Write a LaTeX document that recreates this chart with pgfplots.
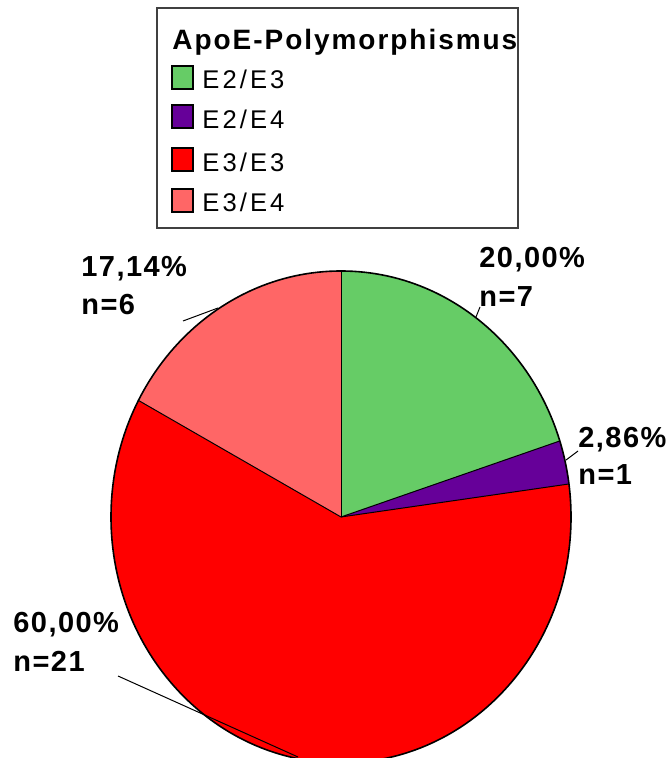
\documentclass[border=0pt]{standalone}
\usepackage{pgfplots}
\pgfplotsset{compat=1.18}
\usepackage{pgfplotstable}
\usepackage{fontspec}
\setmainfont{Liberation Sans}
\newfontfamily\lblfont[LetterSpace=5]{Liberation Sans}
\newfontfamily\legfont[LetterSpace=12]{Liberation Sans}
\newfontfamily\titfont[LetterSpace=7]{Liberation Sans}

\definecolor{cgreen}{RGB}{102,204,102}
\definecolor{cpurple}{RGB}{102,0,153}
\definecolor{cred}{RGB}{255,0,0}
\definecolor{csalmon}{RGB}{255,102,102}

% ApoE genotype counts
\pgfplotstableread{
label n
E2/E3 7
E2/E4 1
E3/E3 21
E3/E4 6
}\piedata

\pgfplotstablegetelem{0}{n}\of\piedata \let\nA\pgfplotsretval
\pgfplotstablegetelem{1}{n}\of\piedata \let\nB\pgfplotsretval
\pgfplotstablegetelem{2}{n}\of\piedata \let\nC\pgfplotsretval
\pgfplotstablegetelem{3}{n}\of\piedata \let\nD\pgfplotsretval
\pgfmathsetmacro\total{\nA+\nB+\nC+\nD}
% angles, clockwise from 12 o'clock
\pgfmathsetmacro\aA{90}
\pgfmathsetmacro\aB{90-360*\nA/\total}
\pgfmathsetmacro\aC{\aB-360*\nB/\total}
\pgfmathsetmacro\aD{\aC-360*\nC/\total}
\pgfmathsetmacro\aE{\aD-360*\nD/\total}

\tikzset{
  lbl/.style={anchor=base west, inner sep=0pt, font=\lblfont\bfseries\fontsize{14.5pt}{17pt}\selectfont},
  leg/.style={anchor=base west, inner sep=0pt, font=\legfont\fontsize{12.8pt}{15pt}\selectfont},
}

\begin{document}
\begin{tikzpicture}
\begin{axis}[
    width=335pt, height=379pt, scale only axis,
    xmin=0, xmax=670, ymin=0, ymax=758,
    hide axis, clip=true,
]
\def\cx{341}\def\cy{241}
\fill[cgreen] (axis cs:\cx,\cy) -- ++(\aA:115pt and 123pt) arc[start angle=\aA, end angle=\aB, x radius=115pt, y radius=123pt] -- cycle;
\fill[cpurple] (axis cs:\cx,\cy) -- ++(\aB:115pt and 123pt) arc[start angle=\aB, end angle=\aC, x radius=115pt, y radius=123pt] -- cycle;
\fill[cred] (axis cs:\cx,\cy) -- ++(\aC:115pt and 123pt) arc[start angle=\aC, end angle=\aD, x radius=115pt, y radius=123pt] -- cycle;
\fill[csalmon] (axis cs:\cx,\cy) -- ++(\aD:115pt and 123pt) arc[start angle=\aD, end angle=\aE, x radius=115pt, y radius=123pt] -- cycle;
\draw[line width=0.5pt] (axis cs:\cx,\cy) -- ++(\aA:115pt and 123pt);
\draw[line width=0.5pt] (axis cs:\cx,\cy) -- ++(\aB:115pt and 123pt);
\draw[line width=0.5pt] (axis cs:\cx,\cy) -- ++(\aC:115pt and 123pt);
\draw[line width=0.5pt] (axis cs:\cx,\cy) -- ++(\aD:115pt and 123pt);
\draw[line width=0.8pt] (axis cs:\cx,\cy) ellipse[x radius=115pt, y radius=123pt];

% data labels and leader lines
\node[lbl] at (axis cs:479,490) {20,00\%};
\node[lbl] at (axis cs:479,451) {n=7};
\node[lbl] at (axis cs:578,310) {2,86\%};
\node[lbl] at (axis cs:578,273) {n=1};
\node[lbl] at (axis cs:81,481) {17,14\%};
\node[lbl] at (axis cs:81,443) {n=6};
\node[lbl] at (axis cs:13,125) {60,00\%};
\node[lbl] at (axis cs:13,86) {n=21};
\draw[line width=0.5pt] (axis cs:480,451) -- (axis cs:476,441);
\draw[line width=0.5pt] (axis cs:578,307) -- (axis cs:566,298);
\draw[line width=0.5pt] (axis cs:183,437) -- (axis cs:218,450);
\draw[line width=0.5pt] (axis cs:118,82) -- (axis cs:298,1);

% legend
\draw[black!75, line width=0.6pt] (axis cs:157,530) rectangle (axis cs:518,750);
\node[anchor=base west, inner sep=0pt, font=\titfont\bfseries\fontsize{14pt}{16pt}\selectfont] at (axis cs:172,708) {ApoE-Polymorphismus};
\filldraw[fill=cgreen, draw=black, line width=0.7pt] (axis cs:172,669) rectangle (axis cs:193,692);
\filldraw[fill=cpurple, draw=black, line width=0.7pt] (axis cs:172,630) rectangle (axis cs:193,653);
\filldraw[fill=cred, draw=black, line width=0.7pt] (axis cs:172,587) rectangle (axis cs:193,610);
\filldraw[fill=csalmon, draw=black, line width=0.7pt] (axis cs:172,546) rectangle (axis cs:193,569);
\node[leg] at (axis cs:202,669) {E2/E3};
\node[leg] at (axis cs:202,629) {E2/E4};
\node[leg] at (axis cs:202,586) {E3/E3};
\node[leg] at (axis cs:202,546) {E3/E4};
\end{axis}
\pgfresetboundingbox
\path (current axis.south west) rectangle (current axis.north east);
\end{tikzpicture}
\end{document}
